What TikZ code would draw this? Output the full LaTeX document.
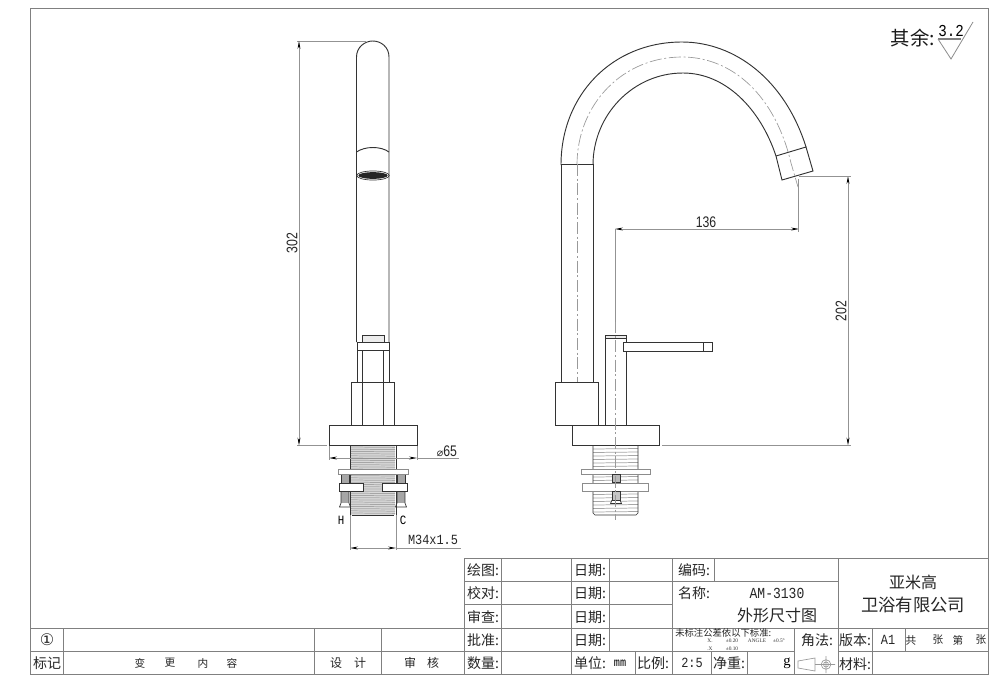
\documentclass[tikz,border=0pt]{standalone}
\usepackage{fontspec}
\usetikzlibrary{arrows.meta}
\setmainfont{Liberation Serif}
\newfontfamily\cjk{Noto Sans CJK SC}
\newfontfamily\dimf[FakeStretch=0.8]{Liberation Sans}
\newfontfamily\monof[FakeStretch=0.85]{Liberation Mono}
\newfontfamily\symf{DejaVu Sans}
\definecolor{frameg}{gray}{0.5}
\definecolor{ink}{gray}{0.2}
\tikzset{
 gridline/.style={draw=frameg,line width=0.75pt},
 outline/.style={draw=ink,line width=0.7pt},
 thin outline/.style={draw=ink,line width=0.5pt},
 threadline/.style={draw=gray!70,line width=0.55pt},
 centerline/.style={draw=gray!80,line width=0.5pt,dash pattern=on 9pt off 2pt on 1.5pt off 2pt},
 dimline/.style={draw=gray!85,line width=0.6pt},
 dimarrows/.style={dimline,{Stealth[length=6pt,width=2.2pt,color=black]}-{Stealth[length=6pt,width=2.2pt,color=black]}},
 cell/.style={font=\cjk\fontsize{10.5}{11}\selectfont,inner sep=0pt,text=black!85},
 small/.style={font=\cjk\fontsize{8}{9}\selectfont,inner sep=0pt,text=black!85},
 tiny/.style={font=\cjk\fontsize{7}{7}\selectfont,inner sep=0pt,text=black!85},
 micro/.style={font=\fontsize{4}{4}\selectfont,inner sep=0pt,text=black!80},
 big/.style={font=\cjk\fontsize{12}{13}\selectfont,inner sep=0pt,text=black!85},
 dimtext/.style={font=\dimf\fontsize{11.5}{12}\selectfont,inner sep=0pt,text=black!85},
 monotext/.style={font=\monof\fontsize{10.5}{11}\selectfont,inner sep=0pt,text=black!85},
}
\begin{document}
\begin{tikzpicture}[x=0.75pt,y=-0.75pt]
\useasboundingbox (0,0) rectangle (1000,697);
\fill[white] (0,0) rectangle (1000,697);
% sheet frame
\draw[gridline] (30,8) rectangle (988,674);
% revision table
\draw[gridline] (30,628) -- (464,628) (30,651) -- (464,651);
\draw[gridline] (63,628) -- (63,674) (314,628) -- (314,674) (381,628) -- (381,674);
% title block
\draw[gridline] (464,558) -- (464,674);
\draw[gridline] (464,558) -- (988,558);
\draw[gridline] (464,581) -- (838,581) (464,604) -- (672,604);
\draw[gridline] (464,628) -- (988,628) (464,651) -- (794,651) (838,651) -- (988,651);
\draw[gridline] (501,558) -- (501,674) (571,558) -- (571,674) (609,558) -- (609,651);
\draw[gridline] (635,651) -- (635,674) (672,558) -- (672,674);
\draw[gridline] (714,558) -- (714,581) (711,651) -- (711,674) (747,651) -- (747,674);
\draw[gridline] (794,628) -- (794,674) (838,558) -- (838,674) (872,628) -- (872,674) (905,628) -- (905,651);
% block text
\node[cell] (t1) at (483,570) {绘图:};
\node[cell] (t2) at (483,593) {校对:};
\node[cell] (t3) at (483,617) {审查:};
\node[cell] (t4) at (483,640) {批准:};
\node[cell] (t5) at (483,663) {数量:};
\node[cell] (t6) at (590,570) {日期:};
\node[cell] (t7) at (590,593) {日期:};
\node[cell] (t8) at (590,617) {日期:};
\node[cell] (t9) at (590,640) {日期:};
\node[cell] (t10) at (590,663) {单位:};
\node[font=\monof\fontsize{9}{10}\selectfont,inner sep=0pt] (t11) at (620,663) {mm};
\node[cell] (t12) at (653,663) {比例:};
\node[monotext] (t13) at (692,663) {2:5};
\node[cell] (t14) at (694,570) {编码:};
\node[cell] (t15) at (694,593) {名称:};
\node[monotext,font=\monof\fontsize{11.5}{12}\selectfont] (t16) at (777,593) {AM-3130};
\node[big] (t17) at (777,615) {外形尺寸图};
\node[big] (t18) at (913,582) {亚米高};
\node[big,font=\cjk\fontsize{13}{14}\selectfont] (t19) at (913,605) {卫浴有限公司};
\node[tiny,anchor=west] (t20) at (675,633) {未标注公差依以下标准:};
\node[micro] (t21) at (710,641) {X.};
\node[micro] (t22) at (732,641) {±0.20};
\node[micro] (t23) at (757,641) {ANGLE};
\node[micro] (t24) at (779,641) {±0.5°};
\node[micro] (t25) at (710,649) {.X};
\node[micro] (t26) at (732,649) {±0.10};
\node[cell] (t27) at (729,663) {净重:};
\node[font=\fontsize{11}{12}\selectfont,inner sep=0pt] (t28) at (787,663) {g};
\node[cell] (t29) at (817,640) {角法:};
\node[cell] (t30) at (855,640) {版本:};
\node[monotext] (t31) at (888,640) {A1};
\node[small] (t32) at (911,640) {共};
\node[small] (t33) at (938,640) {张};
\node[small] (t34) at (958,640) {第};
\node[small] (t35) at (981,640) {张};
\node[cell] (t36) at (855,664) {材料:};
\node[font=\symf\fontsize{12}{13}\selectfont,inner sep=0pt,text=black!85] (t37) at (47,640) {①};
\node[cell] (t38) at (47,663) {标记};
\node[small] (t39) at (140,663) {变};
\node[small] (t40) at (170,663) {更};
\node[small] (t41) at (203,663) {内};
\node[small] (t42) at (232,663) {容};
\node[small,font=\cjk\fontsize{9}{10}\selectfont] (t43) at (336,663) {设};
\node[small,font=\cjk\fontsize{9}{10}\selectfont] (t44) at (360,663) {计};
\node[small,font=\cjk\fontsize{9}{10}\selectfont] (t45) at (410,663) {审};
\node[small,font=\cjk\fontsize{9}{10}\selectfont] (t46) at (433,663) {核};
% projection symbol
\draw[thin outline,draw=gray!80] (798,661) -- (798,668) -- (815,671) -- (815,658) -- cycle;
\draw[thin outline,draw=gray!80] (815,664.5) -- (820,664.5);
\draw[thin outline,draw=gray!80] (826,664.5) circle (3.6pt) (826,664.5) circle (1.9pt) (817,664.5) -- (835,664.5) (826,656) -- (826,673);
% surface note
\node[font=\cjk\fontsize{14.5}{15}\selectfont,inner sep=0pt,text=black!90] (s1) at (913,38) {其余:};
\node[font=\monof\fontsize{12.5}{13}\selectfont,inner sep=0pt] (s2) at (951,31) {3.2};
\draw[draw=gray,line width=0.8pt] (938,39) -- (961,39);
\draw[draw=gray!90,line width=0.6pt] (938,39) -- (951,59) -- (973,22);

%% LEFT VIEW
\draw[outline] (356.5,342) -- (356.5,57) .. controls (356.5,47) and (365,41) .. (372.7,41) .. controls (381,41) and (389,47) .. (389,57) -- (389,342);
\draw[outline] (356.5,152) .. controls (365,146) and (381,146) .. (389,152);
\fill[black!85] (373,175.5) ellipse [x radius=11pt,y radius=2.5pt];
\draw[thin outline] (373,175.5) ellipse [x radius=12.2pt,y radius=3.4pt];
% handle column
\draw[thin outline,fill=gray!15] (362,335.5) rectangle (384,342);
\draw[outline,fill=white] (357,342) rectangle (389,350.5);
\draw[thin outline] (357,350.5) -- (357,382) (389,350.5) -- (389,382);
\draw[outline] (362,350.5) -- (362,425) (383,350.5) -- (383,425);
\draw[outline] (351,382) rectangle (394,425);
\draw[outline,fill=white] (362,382) rectangle (383,425);
\draw[outline,fill=white] (329,425) rectangle (417,445.5);
% left thread
\fill[gray!30] (351,446) rectangle (395,515);
\foreach \y in {447,449.2,...,515}{\draw[threadline] (351,\y) -- (395,\y+0.4);}
\draw[thin outline] (350,446) -- (350,515) (396,446) -- (396,515) (352,515) -- (394,515);
\foreach \xa/\xb in {341/349,397/405}{
  \fill[gray!70] (\xa,474) rectangle (\xb,483);
  \fill[gray!70] (\xa,491) rectangle (\xb,503);
  \draw[thin outline] (\xa,474) rectangle (\xb,483);
  \draw[thin outline] (\xa,491) -- (\xa,503) -- (\xa-1.5,507) -- (\xb+1.5,507) -- (\xb,503) -- (\xb,491);
}
\draw[thin outline,fill=white,draw=gray!90] (338,469) rectangle (408,474);
\draw[thin outline,fill=white] (339,483) rectangle (363,491);
\draw[thin outline,fill=white] (382,483) rectangle (407,491);
% left dimensions
\coordinate (a1) at (299,41); \coordinate (a2) at (299,445.5);
\coordinate (a3) at (297,41); \coordinate (a4) at (366,41);
\coordinate (a5) at (297,445.5); \coordinate (a6) at (327,445.5);
\draw[dimline] (a3) -- (a4) (a5) -- (a6);
\draw[dimarrows] (a1) -- (a2);
\node[dimtext,rotate=90] (d302) at (292,243) {302};
\coordinate (b1) at (329,458); \coordinate (b2) at (417,458); \coordinate (b3) at (459,458);
\draw[dimarrows] (b1) -- (b2);
\draw[dimline] (b2) -- (b3);
\draw[dimline] (329,446) -- (329,460) (417,446) -- (417,460);
\node[dimtext,inner sep=0pt] (d65) at (447,451) {{\symf\fontsize{8}{9}\selectfont ⌀}65};
\coordinate (c1) at (350,548); \coordinate (c2) at (396,548); \coordinate (c3) at (461,548);
\draw[dimarrows] (c1) -- (c2);
\draw[dimline] (c2) -- (c3);
\draw[dimline] (350,515) -- (350,550) (396,515) -- (396,550);
\node[monotext] (dm) at (433,540) {M34x1.5};
\node[font=\monof\fontsize{9.5}{10}\selectfont,inner sep=0pt] (dh) at (341,520) {H};
\node[font=\monof\fontsize{9.5}{10}\selectfont,inner sep=0pt] (dc) at (403,520) {C};

%% RIGHT VIEW
\draw[outline] (561,165) .. controls (561,95) and (612,42) .. (682,42) .. controls (735,42) and (785,80) .. (806,147);
\draw[outline] (593,165) .. controls (593,115) and (633,73) .. (683,73) .. controls (725,73) and (760,108) .. (776,156);
\draw[centerline] (577,165) .. controls (577,105) and (622,57) .. (682,57) .. controls (732,57) and (775,95) .. (791,163) -- (798,187);
\draw[outline] (776,156) -- (806,147) -- (813,171) -- (782,180) -- cycle;
\draw[thin outline] (561,164) -- (593,164);
\draw[outline] (561,164) -- (561,382) (593,164) -- (593,382);
\draw[centerline] (577,164) -- (577,382);
\draw[outline] (555,382) rectangle (598,425);
% handle
\draw[thin outline,fill=gray!15] (605,335.5) rectangle (626,338);
\draw[outline] (605,338) -- (605,425) -- (626,425) -- (626,338) -- cycle;
\draw[outline,fill=white] (623,342.5) rectangle (712,351);
\draw[thin outline] (703,342.5) -- (703,351);
\draw[outline,fill=white] (572,425) rectangle (659,445.5);
% right thread
\foreach \y in {449,452.5,...,515}{\draw[threadline] (593,\y) -- (638,\y-0.5);}
\draw[thin outline] (593,446) -- (593,513) -- (595,515) -- (636,515) -- (638,513) -- (638,446);
\draw[thin outline,fill=white,draw=gray!90] (581,469) rectangle (650,474);
\draw[thin outline,fill=white,draw=gray!90] (582,483) rectangle (648,491);
\fill[gray!55] (612,474.5) rectangle (620,482.5);
\draw[thin outline] (612,474.5) rectangle (620,482.5);
\fill[white] (612,491.5) rectangle (620,503);
\draw[thin outline,fill=gray!45] (612,491.5) rectangle (620,500);
\draw[thin outline] (612,500) -- (610.5,503.5) -- (621.5,503.5) -- (620,500);
\draw[centerline] (615,321) -- (615,520);
% right dimensions
\coordinate (e1) at (615,229); \coordinate (e2) at (799,229);
\draw[dimarrows] (e1) -- (e2);
\draw[dimline] (615,229) -- (615,322);
\draw[dimline] (798.5,179) -- (798.5,232);
\node[dimtext] (d136) at (706,222) {136};
\coordinate (f1) at (848,176); \coordinate (f2) at (848,445.5);
\draw[dimarrows] (f1) -- (f2);
\draw[dimline] (799,176) -- (851,176) (662,445.5) -- (851,445.5);
\node[dimtext,rotate=90] (d202) at (841,311) {202};
\end{tikzpicture}
\end{document}
